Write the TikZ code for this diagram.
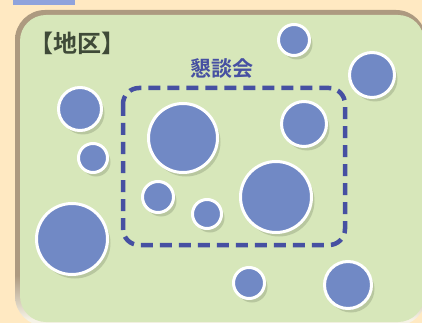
\documentclass[tikz,border=0pt]{standalone}
\usepackage{fontspec}
\newfontfamily\jp[BoldFont={Noto Sans CJK JP Bold}]{Noto Sans CJK JP}
\usetikzlibrary{positioning,shadows}
\definecolor{cream}{HTML}{FFE9C2}
\definecolor{field}{HTML}{D7E7BA}
\definecolor{rim}{HTML}{AD9A80}
\definecolor{rimlight}{HTML}{F6F2E6}
\definecolor{dot}{HTML}{7189C5}
\definecolor{dotshadow}{HTML}{9BA886}
\definecolor{meet}{HTML}{4650A2}
\definecolor{ink}{HTML}{3F4A38}
\definecolor{tab}{HTML}{8FA3DC}
% the path is fitted to the middle 50bp of the shading
\pgfdeclareverticalshading{rimfade}{100bp}{color(0bp)=(rimlight); color(26bp)=(rimlight); color(33bp)=(rim); color(100bp)=(rim)}
\tikzset{
  resident/.style={
    circle,
    draw=white,
    line width=3pt,
    fill=dot,
    inner sep=0pt,
    drop shadow={shadow xshift=3pt,shadow yshift=-4pt,fill=dotshadow}
  },
  meeting box/.style={
    draw=meet,
    line width=4.5pt,
    dash pattern=on 12pt off 7pt,
    rounded corners=16pt
  },
  area label/.style={font=\jp\bfseries\fontsize{24}{26}\selectfont,text=ink,inner sep=0pt},
  meeting label/.style={font=\jp\bfseries\fontsize{21}{23}\selectfont,text=meet,inner sep=0pt}
}
\begin{document}
\begin{tikzpicture}[x=1pt,y=-1pt]
\useasboundingbox (0,0) rectangle (422,323);
\fill[cream] (0,0) rectangle (422,323);
% district area
\shade[shading=rimfade,rounded corners=30pt] (15,10) rectangle (426,326);
\fill[field,rounded corners=26pt] (20,15) rectangle (424,322);
\fill[tab] (13,0.5) rectangle (75,5);
\node (area) [area label] at (77,43) {【地区】};
% residents
\foreach \name/\cx/\cy/\r in {c1/80/109/23, c2/93/158/16, c3/183/138/36,
    c4/294/40/17, c5/372/75/24, c6/304/124/24, c7/158/197/17,
    c8/207/214/16, c9/276/197/37, c10/72/239/37, c11/249/283/17,
    c12/348/285/25}
  \node (\name) [resident,minimum size=2*\r pt-3pt] at (\cx,\cy) {};
% meeting
\draw[meeting box] (123,88) rectangle (345,245);
\node (meeting) [meeting label] at (221.5,69) {懇談会};
\end{tikzpicture}
\end{document}
